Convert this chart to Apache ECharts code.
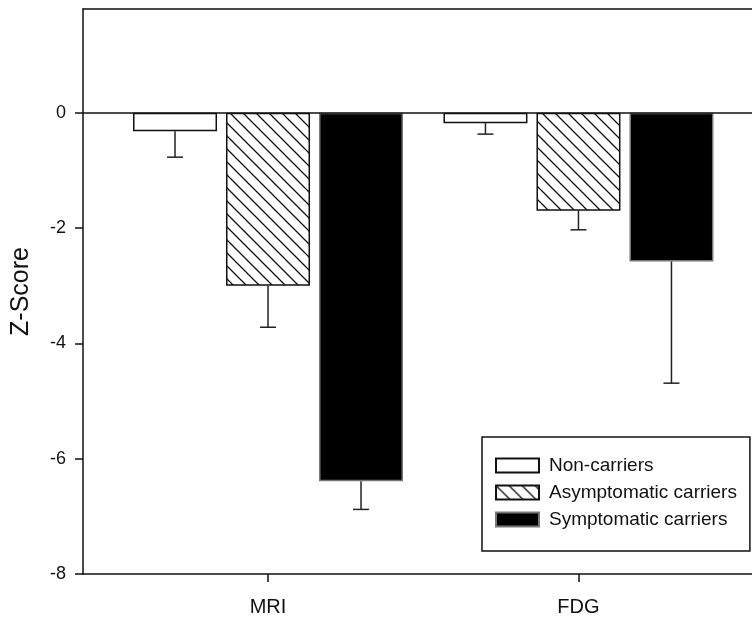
<!DOCTYPE html>
<html>
<head>
<meta charset="utf-8">
<script src="https://cdn.jsdelivr.net/npm/echarts@6/dist/echarts.min.js"></script>
<style>
  html, body { margin: 0; padding: 0; background: #fff; }
  #chart { width: 752px; height: 618px; }
</style>
</head>
<body>
<div id="chart"></div>
<script>
// data
const categories = ['MRI', 'FDG']
const seriesNames = ['Non-carriers', 'Asymptomatic carriers', 'Symptomatic carriers']
const nonCarriers = [-0.32, -0.18]
const asymptomatic = [-3.0, -1.70]
const symptomatic = [-6.39, -2.58]
const nonCarriersErr = [0.45, 0.19]
const asymptomaticErr = [0.72, 0.33]
const symptomaticErr = [0.49, 2.11]
const yTicks = [-8, -6, -4, -2, 0]

const font = 'Liberation Sans, Arial, sans-serif'
const barWidth = 84
const barGapPx = 9

// diagonal hatch for the asymptomatic bars
function hatch () {
  const s = 13
  const c = document.createElement('canvas')
  c.width = s
  c.height = s
  const ctx = c.getContext('2d')
  ctx.fillStyle = '#fff'
  ctx.fillRect(0, 0, s, s)
  ctx.strokeStyle = '#111'
  ctx.lineWidth = 1.3
  ctx.beginPath()
  ctx.moveTo(-2, -2); ctx.lineTo(s + 2, s + 2)
  ctx.moveTo(-2, s - 2); ctx.lineTo(2, s + 2)
  ctx.moveTo(s - 2, -2); ctx.lineTo(s + 2, 2)
  ctx.stroke()
  return c
}

const xPos = categories.map((c, i) => i + 1)
const pairs = arr => arr.map((v, i) => [xPos[i], v])

const values = [nonCarriers, asymptomatic, symptomatic]
const errs = [nonCarriersErr, asymptomaticErr, symptomaticErr]
const errData = []
values.forEach((vals, s) => {
  vals.forEach((v, i) => errData.push([xPos[i], v, v - errs[s][i], s]))
})

const axisLine = { onZero: false, lineStyle: { color: '#111', width: 1.5 } }

const myChart = echarts.init(document.getElementById('chart'))
const option = {
  backgroundColor: '#fff',
  animation: false,
  textStyle: { fontFamily: font },
  grid: {
    left: 83,
    top: 9,
    bottom: 44,
    right: 0,
    outerBoundsMode: 'none',
    containLabel: false
  },
  legend: {
    orient: 'vertical',
    left: 482,
    top: 437,
    padding: [19, 13, 22, 13],
    itemWidth: 43,
    itemHeight: 14,
    itemGap: 8,
    borderColor: '#111',
    borderWidth: 1.5,
    backgroundColor: '#fff',
    icon: 'rect',
    textStyle: { fontFamily: font, fontSize: 19, color: '#111', lineHeight: 18, padding: [0, 0, 0, 5] },
    data: seriesNames
  },
  xAxis: [
    {
      type: 'value',
      min: 0.404,
      max: 2.559,
      splitLine: { show: false },
      axisLine: axisLine,
      axisTick: { customValues: xPos, length: 8, lineStyle: { color: '#111', width: 1.5 } },
      axisLabel: {
        customValues: xPos,
        formatter: v => categories[Math.round(v) - 1],
        fontSize: 20,
        color: '#111',
        margin: 23
      }
    },
    {
      // top frame line
      type: 'value',
      position: 'top',
      min: 0.404,
      max: 2.559,
      splitLine: { show: false },
      axisLine: axisLine,
      axisTick: { show: false },
      axisLabel: { show: false }
    }
  ],
  yAxis: {
    type: 'value',
    min: -8,
    max: 1.8,
    interval: 2,
    name: 'Z-Score',
    nameLocation: 'middle',
    nameGap: 49,
    nameTextStyle: { fontFamily: font, fontSize: 25, color: '#111' },
    splitLine: { show: false },
    axisLine: { show: true, onZero: false, lineStyle: { color: '#111', width: 1.5 } },
    axisTick: { customValues: yTicks, length: 8, lineStyle: { color: '#111', width: 1.5 } },
    axisLabel: { customValues: yTicks, fontSize: 18, color: '#111', margin: 17 }
  },
  series: [
    {
      name: seriesNames[0],
      type: 'bar',
      barWidth: barWidth,
      barGap: (barGapPx / barWidth * 100) + '%',
      itemStyle: { color: '#fff', borderColor: '#111', borderWidth: 1.5 },
      data: pairs(nonCarriers),
      markLine: {
        silent: true,
        symbol: 'none',
        label: { show: false },
        lineStyle: { color: '#111', width: 1.5, type: 'solid' },
        data: [{ yAxis: 0 }]
      }
    },
    {
      name: seriesNames[1],
      type: 'bar',
      barWidth: barWidth,
      itemStyle: { color: { image: hatch(), repeat: 'repeat' }, borderColor: '#111', borderWidth: 1.5 },
      data: pairs(asymptomatic)
    },
    {
      name: seriesNames[2],
      type: 'bar',
      barWidth: barWidth,
      itemStyle: { color: '#000', borderColor: '#777', borderWidth: 1.5 },
      data: pairs(symptomatic)
    },
    {
      type: 'custom',
      silent: true,
      z: 3,
      data: errData,
      renderItem: (params, api) => {
        const off = (api.value(3) - 1) * (barWidth + barGapPx)
        const top = api.coord([api.value(0), api.value(1)])
        const bot = api.coord([api.value(0), api.value(2)])
        const x = top[0] + off
        const style = { stroke: '#222', lineWidth: 1.5 }
        return {
          type: 'group',
          children: [
            { type: 'line', shape: { x1: x, y1: top[1], x2: x, y2: bot[1] }, style },
            { type: 'line', shape: { x1: x - 8, y1: bot[1], x2: x + 8, y2: bot[1] }, style }
          ]
        }
      }
    }
  ]
}
myChart.setOption(option, true)
window.addEventListener('resize', () => {
  myChart.resize()
})
</script>
</body>
</html>
